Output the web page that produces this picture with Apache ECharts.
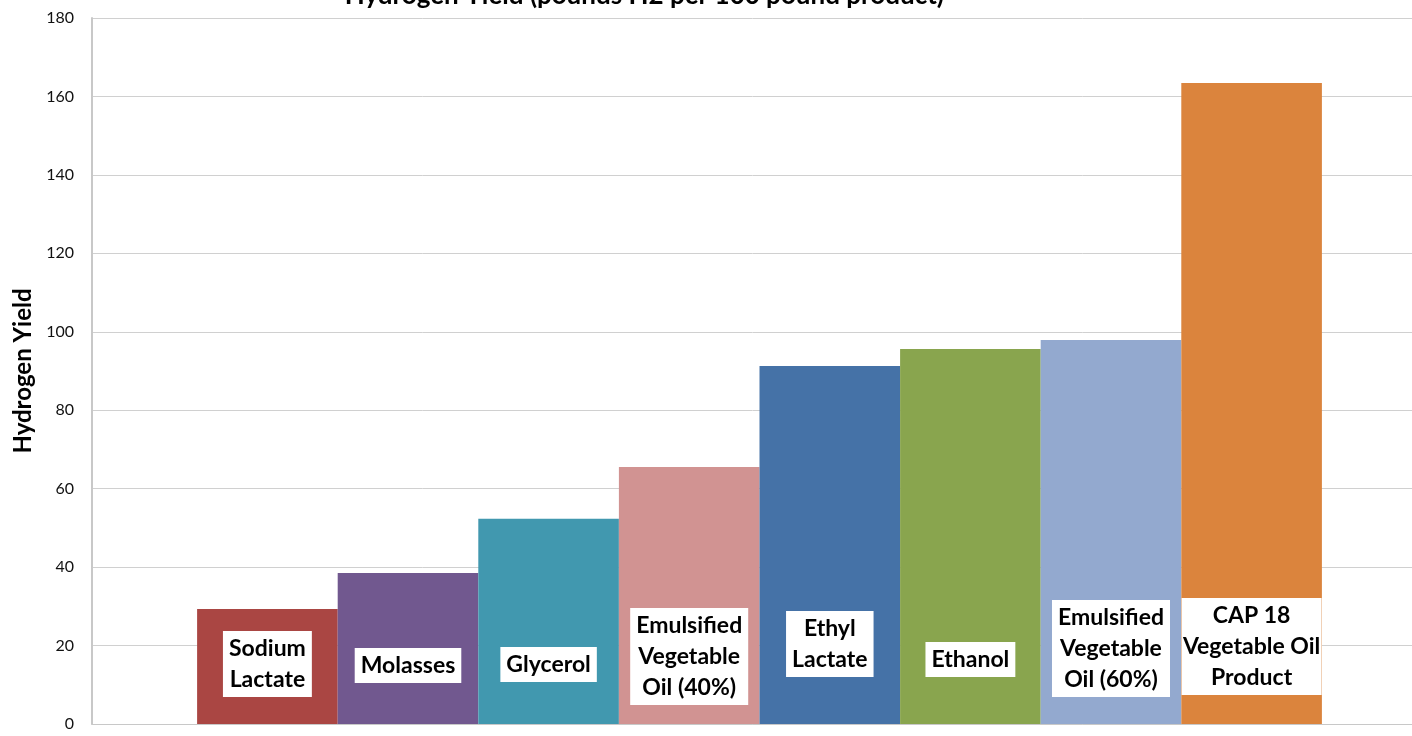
<!DOCTYPE html>
<html>
<head>
<meta charset="utf-8">
<script src="https://cdn.jsdelivr.net/npm/echarts@6/dist/echarts.min.js"></script>
<style>
  html, body { margin: 0; padding: 0; background: #fff; }
  #chart { width: 1412px; height: 736px; }
</style>
</head>
<body>
<div id="chart"></div>
<script>
// substrate names (label text) and hydrogen yield
const materials = ['Sodium\nLactate', 'Molasses', 'Glycerol', 'Emulsified\nVegetable\nOil (40%)',
  'Ethyl\nLactate', 'Ethanol', 'Emulsified\nVegetable\nOil (60%)', 'CAP 18\nVegetable Oil\nProduct'];
const hydrogenYield = [29.3, 38.5, 52.3, 65.5, 91.3, 95.6, 97.9, 163.4];
const yTicks = { min: 0, max: 180, interval: 20 };

const barColors = ['#AA4643', '#71588F', '#4198AF', '#D19392', '#4572A7', '#89A54E', '#93A9CF', '#DB843D'];
// how far each white label box sits above the axis
const labelLift = [27, 41, 42, 19, 47, 47, 27, 29];

const font = 'Lato, "Open Sans", sans-serif';

const chart = echarts.init(document.getElementById('chart'));

const series = materials.map((name, i) => ({
  name: name,
  type: 'bar',
  data: [hydrogenYield[i]],
  barWidth: 140.6,
  barGap: '0%',
  itemStyle: { color: barColors[i] },
  label: {
    show: true,
    position: 'insideBottom',
    distance: labelLift[i],
    formatter: name,
    backgroundColor: '#fff',
    padding: [2, 6],
    width: i === 7 ? 128 : undefined,
    align: 'center',
    color: '#000',
    fontFamily: font,
    fontWeight: 'bold',
    fontSize: 23,
    lineHeight: 31
  }
}));

const option = {
  animation: false,
  title: {
    text: 'Hydrogen Yield (pounds H2 per 100 pound product)',
    right: 463,
    top: -22,
    textStyle: { fontFamily: font, fontWeight: 'bold', fontSize: 26, color: '#000' }
  },
  grid: { left: 92, right: -15, top: 18, bottom: 12, outerBoundsMode: 'none' },
  xAxis: {
    type: 'category',
    data: [''],
    axisTick: { show: false },
    axisLabel: { show: false },
    axisLine: { lineStyle: { color: '#c8c8c8', width: 1 } }
  },
  yAxis: {
    type: 'value',
    min: yTicks.min,
    max: yTicks.max,
    interval: yTicks.interval,
    name: 'Hydrogen Yield',
    nameLocation: 'middle',
    nameGap: 52,
    nameTextStyle: { fontFamily: font, fontWeight: 'bold', fontSize: 24, color: '#000' },
    axisLine: { show: true, lineStyle: { color: '#c8c8c8', width: 2 } },
    axisTick: { show: false },
    axisLabel: { fontFamily: font, fontSize: 16, color: '#111', margin: 18 },
    splitLine: { lineStyle: { color: '#d0d0d0', width: 1 } }
  },
  series: series
};

chart.setOption(option);
</script>
</body>
</html>
